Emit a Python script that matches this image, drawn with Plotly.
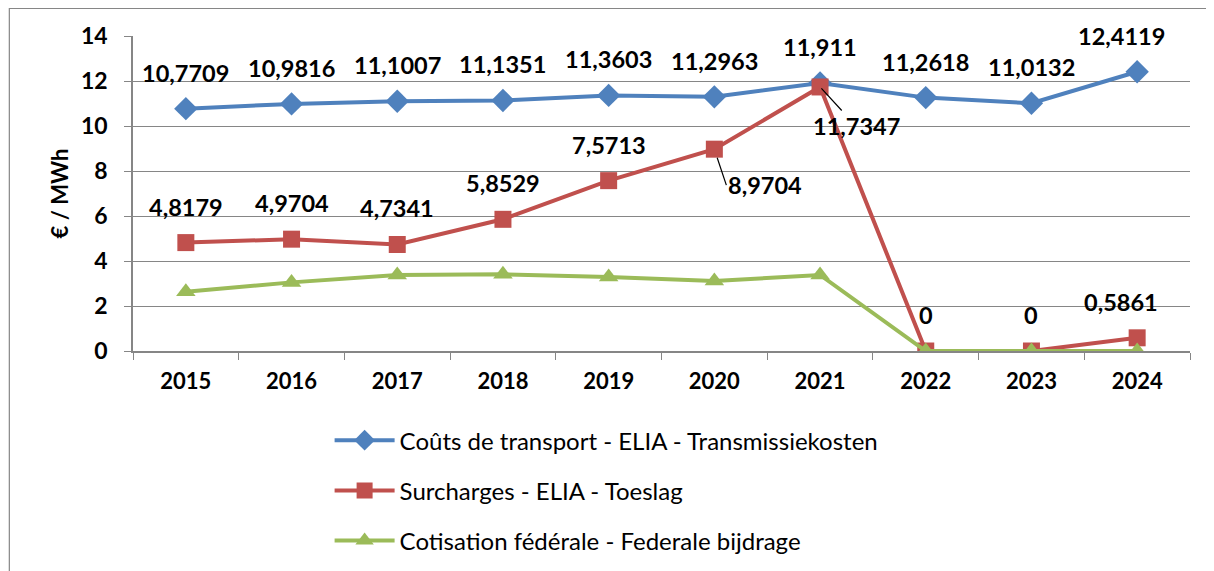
import plotly.graph_objects as go

years = ["2015", "2016", "2017", "2018", "2019", "2020", "2021", "2022", "2023", "2024"]
transport = [10.7709, 10.9816, 11.1007, 11.1351, 11.3603, 11.2963, 11.911, 11.2618, 11.0132, 12.4119]
surcharges = [4.8179, 4.9704, 4.7341, 5.8529, 7.5713, 8.9704, 11.7347, 0, 0, 0.5861]
federale = [2.63, 3.05, 3.38, 3.41, 3.29, 3.11, 3.38, 0, 0, 0]

names = ["Coûts de transport - ELIA - Transmissiekosten",
         "Surcharges - ELIA - Toeslag",
         "Cotisation fédérale - Federale bijdrage"]
colors = ["#4F81BD", "#C0504D", "#9BBB59"]
symbols = ["diamond", "square", "triangle-up"]

FONT = "Lato"
fig = go.Figure()
for i, (vals, name) in enumerate(zip([transport, surcharges, federale], names)):
    fig.add_trace(go.Scatter(
        x=years, y=vals, name=name, mode="lines+markers",
        line=dict(color=colors[i], width=4),
        marker=dict(symbol=symbols[i], size=17 if i != 0 else 18, color=colors[i]),
        legendgroup=str(i),
    ))

def fmt(v):
    s = ("%.4f" % v).rstrip("0").rstrip(".")
    return s.replace(".", ",")

ann = []
lab_font = dict(family=FONT, size=23.5, color="black", weight="bold")
# transport labels above
for j, v in enumerate(transport):
    ann.append(dict(x=j, y=v, text=fmt(v), showarrow=False, yshift=36,
                    xshift=-16 if j == 9 else 0, font=lab_font))
# surcharge labels
for j, v in enumerate(surcharges):
    if years[j] == "2020":
        ann.append(dict(x=j, y=v, text=fmt(v), showarrow=True, arrowhead=0,
                        arrowwidth=1.2, arrowcolor="black", ax=12, ay=36,
                        xanchor="left", yanchor="middle",
                        standoff=9, font=lab_font))
    elif years[j] == "2021":
        ann.append(dict(x=j, y=v, text=fmt(v), showarrow=True, arrowhead=0,
                        arrowwidth=1.2, arrowcolor="black", ax=36, ay=39,
                        standoff=2, font=lab_font))
    else:
        ann.append(dict(x=j, y=v, text=fmt(v), showarrow=False, yshift=36,
                        xshift=-16 if j == 9 else 0, font=lab_font))

fig.update_layout(
    width=1214, height=571,
    margin=dict(l=125, r=32, t=28, b=228, autoexpand=False),
    paper_bgcolor="white", plot_bgcolor="white",
    font=dict(family=FONT, color="black"),
    annotations=ann,
    showlegend=True,
    legend=dict(orientation="v", x=0.186, y=-0.213, xanchor="left", yanchor="top",
                font=dict(family=FONT, size=24, color="black"),
                tracegroupgap=16, itemwidth=60, bgcolor="rgba(0,0,0,0)"),
    xaxis=dict(type="category", tickson="boundaries", ticks="outside", ticklen=7,
               tickcolor="#868686", showline=True, linecolor="#868686", linewidth=1.5,
               showgrid=False, tickfont=dict(family=FONT, size=22, weight="bold"),
               ticklabelstandoff=10, range=[-0.5, 9.5]),
    yaxis=dict(range=[0, 14], dtick=2, ticks="outside", ticklen=7, tickcolor="#868686",
               showline=True, linecolor="#868686", linewidth=1.5,
               showgrid=True, gridcolor="#868686", gridwidth=1.2, zeroline=False,
               tickfont=dict(family=FONT, size=23, weight="bold"), ticklabelstandoff=12,
               title=dict(text="€ / MWh", font=dict(family=FONT, size=22, weight="bold"),
                          standoff=6)),
    shapes=[dict(type="rect", xref="paper", yref="paper",
                 x0=-0.117, x1=1.017, y0=-0.75, y1=1.088,
                 line=dict(color="#868686", width=1.2), fillcolor="rgba(0,0,0,0)")],
)

fig.write_html("out.html")
